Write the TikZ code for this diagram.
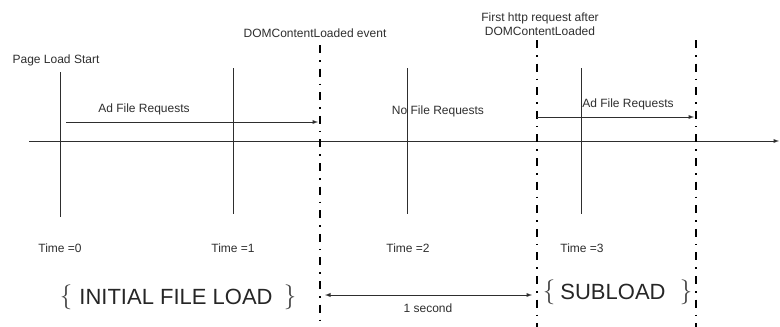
\documentclass[tikz,border=0pt]{standalone}
\usepackage{fontspec}
\setmainfont{Liberation Sans}
\usetikzlibrary{calc}
\usetikzlibrary{arrows}

\definecolor{inkgray}{HTML}{2E2E2E}
\tikzset{
  tick/.style={draw=inkgray,line width=0.9pt},
  marker/.style={draw=black,line width=1.8pt,dash pattern=on 8pt off 7pt on 1.6pt off 7pt},
  lbl/.style={text=inkgray,font=\fontsize{12}{14}\selectfont,inner sep=0pt},
  phase/.style={text=black!85,font=\fontsize{22}{24}\selectfont,inner sep=0pt},
  brace/.style={text=black!75,font=\fontsize{24}{26}\selectfont,inner sep=0pt}
}

\begin{document}
\begin{tikzpicture}[x=1pt,y=-1pt]
  \useasboundingbox (0,0) rectangle (780,327);

  % time axis
  \coordinate (axisL) at (29,141);
  \coordinate (axisR) at (779,141);
  \draw [tick,-latex] (axisL) -- (axisR);

  % time ticks
  \coordinate (t0top) at (60,72);    \coordinate (t0bot) at (60,217);
  \coordinate (t1top) at (233,68);   \coordinate (t1bot) at (233,214);
  \coordinate (t2top) at (407,68);   \coordinate (t2bot) at (407,214);
  \coordinate (t3top) at (581,68);   \coordinate (t3bot) at (581,214);
  \draw [tick] (t0top) -- (t0bot);
  \draw [tick] (t1top) -- (t1bot);
  \draw [tick] (t2top) -- (t2bot);
  \draw [tick] (t3top) -- (t3bot);

  \node [lbl] (time0) at (60,248) {Time =0};
  \node [lbl] (time1) at (233,248) {Time =1};
  \node [lbl] (time2) at (408,248) {Time =2};
  \node [lbl] (time3) at (582,248) {Time =3};

  % event markers
  \coordinate (domtop) at (320,45);    \coordinate (dombot) at (320,327);
  \coordinate (httptop) at (537,40);   \coordinate (httpbot) at (537,327);
  \coordinate (endtop) at (696,40);    \coordinate (endbot) at (696,327);
  \draw [marker] (domtop) -- (dombot);
  \draw [marker] (httptop) -- (httpbot);
  \draw [marker] (endtop) -- (endbot);

  \node [lbl] (start) at (56,60) {Page Load Start};
  \node [lbl] (dom) at (315,33) {DOMContentLoaded event};
  \node [lbl,align=center] (http) at (540,24) {First http request after\\DOMContentLoaded};

  % requests
  \coordinate (req1L) at (66,122);  \coordinate (req1R) at (318,122);
  \coordinate (req2L) at (537,117); \coordinate (req2R) at (694,117);
  \draw [tick,-latex] (req1L) -- (req1R);
  \draw [tick,-latex] (req2L) -- (req2R);
  \node [lbl] (ad1) at (144,109) {Ad File Requests};
  \node [lbl] (nofile) at (438,111) {No File Requests};
  \node [lbl] (ad2) at (628,104) {Ad File Requests};

  % phases
  \node [phase] (initial) at (176,297) {INITIAL FILE LOAD};
  \node [brace] (initialL) at (66,297) {\(\{\)};
  \node [brace] (initialR) at (290,297) {\(\}\)};
  \node [phase] (subload) at (613,292) {SUBLOAD};
  \node [brace] (subloadL) at (549,292) {\(\{\)};
  \node [brace] (subloadR) at (686,292) {\(\}\)};
  \coordinate (gapL) at (325,295);
  \coordinate (gapR) at (532,295);
  \draw [tick,latex-latex] (gapL) -- (gapR);
  \node [lbl] (second) at (428,308) {1 second};
\end{tikzpicture}
\end{document}
